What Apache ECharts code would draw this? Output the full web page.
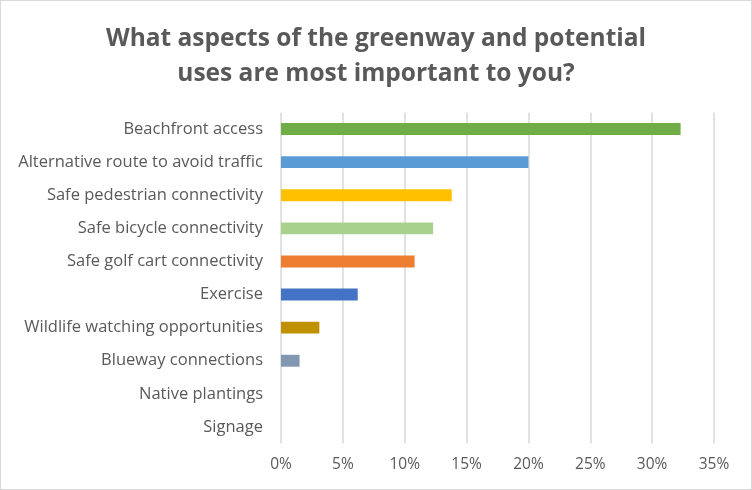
<!DOCTYPE html>
<html>
<head>
<meta charset="utf-8">
<script src="https://cdn.jsdelivr.net/npm/echarts@6/dist/echarts.min.js"></script>
<style>
html,body{margin:0;padding:0;background:#fff;}
#wrap{position:absolute;left:0;top:0;width:750px;height:488px;border:1px solid #d9d9d9;}
#chart{width:750px;height:488px;}
</style>
</head>
<body>
<div id="wrap"><div id="chart"></div></div>
<script>
const titleText = "What aspects of the greenway and potential\nuses are most important to you?";
const categories = [
  "Beachfront access",
  "Alternative route to avoid traffic",
  "Safe pedestrian connectivity",
  "Safe bicycle connectivity",
  "Safe golf cart connectivity",
  "Exercise",
  "Wildlife watching opportunities",
  "Blueway connections",
  "Native plantings",
  "Signage"
];
const values = [32.3, 20.0, 13.8, 12.3, 10.8, 6.2, 3.1, 1.5, 0, 0];
const barColors = ["#70AD47", "#5B9BD5", "#FFC000", "#A9D18E", "#ED7D31", "#4472C4", "#BF9000", "#8497B0", "#A5A5A5", "#FFC000"];
const xTicks = [0, 5, 10, 15, 20, 25, 30, 35];

const chart = echarts.init(document.getElementById('chart'), null, {renderer: 'canvas'});
chart.setOption({
  animation: false,
  backgroundColor: '#fff',
  title: {
    text: titleText,
    left: 'center',
    top: 16,
    textStyle: {
      fontFamily: 'Open Sans',
      fontWeight: 'bold',
      fontSize: 24.5,
      color: '#595959',
      lineHeight: 35
    }
  },
  grid: {left: 280, right: 37, top: 111.5, bottom: 45.5, containLabel: false},
  xAxis: {
    type: 'value',
    min: xTicks[0],
    max: xTicks[xTicks.length - 1],
    interval: 5,
    axisLine: {show: false},
    axisTick: {show: false},
    splitLine: {show: true, lineStyle: {color: '#d9d9d9', width: 1.5}},
    axisLabel: {
      formatter: v => v + '%',
      color: '#595959',
      fontFamily: 'Open Sans',
      fontSize: 15.5,
      margin: 13
    }
  },
  yAxis: {
    type: 'category',
    data: categories,
    inverse: true,
    axisLine: {show: false},
    axisTick: {show: false},
    axisLabel: {
      color: '#595959',
      fontFamily: 'Open Sans',
      fontSize: 16.5,
      margin: 18
    }
  },
  series: [{
    type: 'bar',
    data: values.map((v, i) => ({value: v, itemStyle: {color: barColors[i]}})),
    barWidth: '36%'
  }]
});
</script>
</body>
</html>
